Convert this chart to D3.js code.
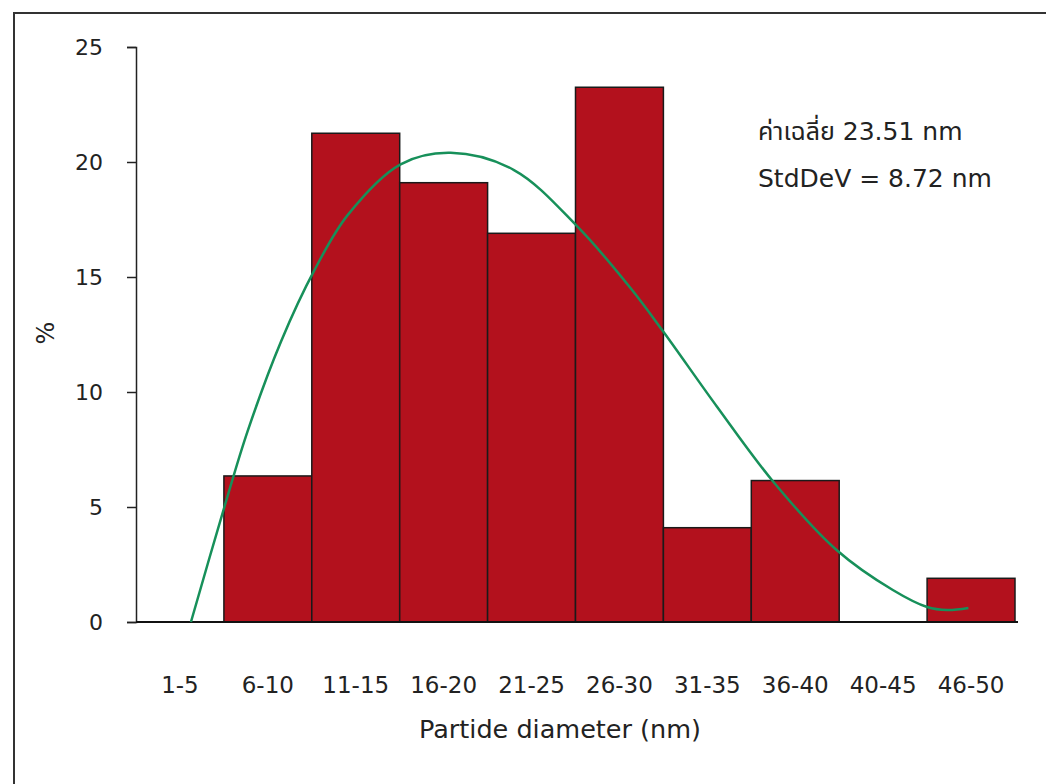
<!DOCTYPE html>
<html>
<head>
<meta charset="utf-8">
<script src="https://cdn.jsdelivr.net/npm/d3@7"></script>
<style>
  body { margin: 0; background: #fff; }
  svg { display: block; }
  text { font-family: "DejaVu Sans", "Noto Sans Thai", "Noto Sans", sans-serif; fill: #222; }
</style>
</head>
<body>
<script>
// bins and their percentages
const bins = ["1-5", "6-10", "11-15", "16-20", "21-25", "26-30", "31-35", "36-40", "40-45", "46-50"];
const percent = [0, 6.35, 21.25, 19.1, 16.9, 23.25, 4.1, 6.15, 0, 1.9];

// trend curve, x in bin units (0 = left edge of first bin), y in %
const curveX = [0.625, 1.0, 1.27, 1.65, 2.03, 2.41, 3.01, 3.58, 4.3, 5.02, 5.63, 6.0, 6.61, 7.25, 7.97, 8.61, 9.0, 9.23, 9.47];
const curveY = [0, 4.93, 8.3, 12.2, 15.3, 17.7, 19.9, 20.4, 19.65, 17.2, 14.5, 12.62, 9.36, 6.1, 3.13, 1.39, 0.65, 0.52, 0.61];

const yTicks = [0, 5, 10, 15, 20, 25];
const notes = ["ค่าเฉลี่ย 23.51 nm", "StdDeV = 8.72 nm"];

const W = 1046, H = 784;
const svg = d3.select("body").append("svg").attr("width", W).attr("height", H);

// scanned page frame
svg.append("path")
  .attr("d", "M14,784 L14,13 L1046,13")
  .attr("fill", "none").attr("stroke", "#333").attr("stroke-width", 2);

const mLeft = 136, mRight = 1015, mTop = 47, mBottom = 622;

const x = d3.scaleBand().domain(bins).range([mLeft, mRight]).padding(0);
const xLin = d3.scaleLinear().domain([0, bins.length]).range([mLeft, mRight]);
const y = d3.scaleLinear().domain([0, 25]).range([mBottom, mTop]);

// bars
svg.append("g").selectAll("rect")
  .data(bins.map((b, i) => ({ b: b, v: percent[i] })).filter(d => d.v > 0))
  .join("rect")
  .attr("x", d => x(d.b))
  .attr("y", d => y(d.v))
  .attr("width", x.bandwidth())
  .attr("height", d => y(0) - y(d.v))
  .attr("fill", "#b3111d")
  .attr("stroke", "#1a1a1a")
  .attr("stroke-width", 1.5);

// y axis
const yAxis = svg.append("g")
  .attr("transform", `translate(${mLeft},0)`)
  .call(d3.axisLeft(y).tickValues(yTicks).tickSize(9).tickPadding(24));
yAxis.select(".domain").attr("stroke", "#222").attr("stroke-width", 1.5);
yAxis.selectAll(".tick line").attr("stroke", "#222").attr("stroke-width", 1.5);
yAxis.selectAll(".tick text")
  .style("font-size", "22px")
  .style("font-family", "'DejaVu Sans', sans-serif")
  .attr("fill", "#222");

// x axis line
svg.append("line")
  .attr("x1", mLeft).attr("x2", mRight + 3)
  .attr("y1", y(0)).attr("y2", y(0))
  .attr("stroke", "#111").attr("stroke-width", 2);

// x labels
svg.append("g").selectAll("text")
  .data(bins)
  .join("text")
  .attr("x", d => x(d) + x.bandwidth() / 2)
  .attr("y", 693)
  .attr("text-anchor", "middle")
  .style("font-size", "23px")
  .text(d => d);

// trend curve
const line = d3.line()
  .x(d => xLin(d[0]))
  .y(d => y(d[1]))
  .curve(d3.curveCatmullRom.alpha(0.5));
svg.append("path")
  .datum(curveX.map((v, i) => [v, curveY[i]]))
  .attr("d", line)
  .attr("fill", "none")
  .attr("stroke", "#17905a")
  .attr("stroke-width", 2.5);

// axis titles
svg.append("text")
  .attr("x", 560).attr("y", 738)
  .attr("text-anchor", "middle")
  .style("font-size", "25.5px")
  .text("Partide diameter (nm)");

svg.append("text")
  .attr("transform", "translate(54,333) rotate(-90)")
  .attr("text-anchor", "middle")
  .style("font-size", "24px")
  .text("%");

// mean / std annotation
svg.append("g").selectAll("text")
  .data(notes)
  .join("text")
  .attr("x", 758)
  .attr("y", (d, i) => 140 + i * 47)
  .style("font-size", "25px")
  .text(d => d);
</script>
</body>
</html>
